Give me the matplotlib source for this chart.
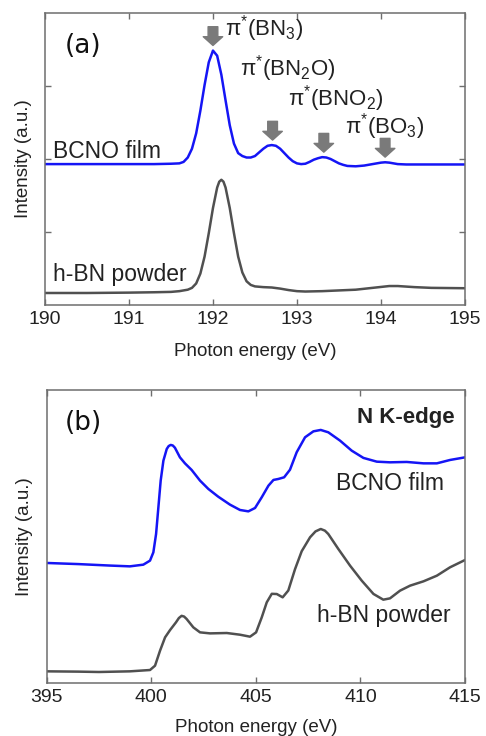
import numpy as np
import matplotlib
matplotlib.use("Agg")
import matplotlib.pyplot as plt

plt.rcParams['font.family'] = ['Liberation Sans', 'DejaVu Sans']
plt.rcParams['mathtext.default'] = 'regular'

# ---- (a) B K-edge, offset spectra ----
b_energy_film = [190.0, 190.5, 191.0, 191.3, 191.5, 191.6, 191.65, 191.7, 191.75, 191.8,
                 191.85, 191.9, 191.95, 192.0, 192.05, 192.1, 192.15, 192.2, 192.25, 192.3,
                 192.35, 192.4, 192.45, 192.5, 192.55, 192.6, 192.65, 192.7, 192.75, 192.8,
                 192.85, 192.9, 192.95, 193.0, 193.05, 193.1, 193.15, 193.2, 193.25, 193.3,
                 193.35, 193.4, 193.45, 193.5, 193.55, 193.6, 193.7, 193.8, 193.9, 194.0,
                 194.05, 194.1, 194.2, 194.3, 194.5, 195.0]
b_bcno = [1.93, 1.93, 1.93, 1.93, 1.935, 1.94, 1.96, 2.02, 2.14, 2.35,
          2.66, 3.01, 3.32, 3.48, 3.41, 3.15, 2.80, 2.46, 2.21, 2.08,
          2.04, 2.02, 2.02, 2.04, 2.09, 2.14, 2.18, 2.19, 2.18, 2.14,
          2.08, 2.02, 1.97, 1.94, 1.93, 1.935, 1.96, 1.99, 2.01, 2.025,
          2.02, 2.00, 1.97, 1.94, 1.92, 1.905, 1.90, 1.91, 1.93, 1.95,
          1.955, 1.95, 1.93, 1.925, 1.925, 1.925]

b_energy_hbn = [190.0, 190.5, 191.0, 191.3, 191.5, 191.6, 191.7, 191.75, 191.8, 191.85,
                191.9, 191.95, 192.0, 192.05, 192.075, 192.1, 192.125, 192.15, 192.2, 192.25,
                192.3, 192.35, 192.4, 192.45, 192.5, 192.6, 192.7, 192.8, 192.9, 193.0,
                193.1, 193.3, 193.5, 193.7, 193.9, 194.1, 194.2, 194.4, 194.6, 195.0]
b_hbn = [0.17, 0.17, 0.175, 0.18, 0.185, 0.195, 0.215, 0.24, 0.30, 0.435,
         0.667, 0.986, 1.33, 1.61, 1.69, 1.716, 1.69, 1.61, 1.33, 0.986,
         0.667, 0.45, 0.33, 0.28, 0.26, 0.25, 0.245, 0.23, 0.21, 0.195,
         0.19, 0.195, 0.205, 0.215, 0.24, 0.265, 0.265, 0.25, 0.24, 0.235]

peak_energies = [192.0, 192.71, 193.32, 194.05]
peak_labels = [r"$π^{*}$(BN$_3$)", r"$π^{*}$(BN$_2$O)", r"$π^{*}$(BNO$_2$)", r"$π^{*}$(BO$_3$)"]

# ---- (b) N K-edge ----
n_energy_film = [395.0, 396.5, 398.0, 398.98, 399.62, 399.94, 400.10, 400.23, 400.34, 400.45,
                 400.58, 400.74, 400.83, 400.93, 401.03, 401.13, 401.37, 401.61, 401.93, 402.33,
                 402.73, 403.20, 403.76, 404.24, 404.64, 404.96, 405.28, 405.60, 405.84, 406.07,
                 406.35, 406.63, 406.95, 407.35, 407.75, 408.10, 408.46, 409.02, 409.58, 410.14,
                 410.78, 411.41, 412.21, 413.01, 413.65, 414.28, 415.0]
n_bcno = [1.640, 1.625, 1.605, 1.594, 1.617, 1.672, 1.785, 2.035, 2.398, 2.762,
          3.034, 3.193, 3.232, 3.248, 3.240, 3.210, 3.079, 2.997, 2.907, 2.762,
          2.648, 2.543, 2.435, 2.362, 2.343, 2.389, 2.535, 2.693, 2.771, 2.784,
          2.807, 2.910, 3.148, 3.352, 3.433, 3.452, 3.420, 3.307, 3.170, 3.071,
          3.020, 3.011, 3.016, 2.997, 2.997, 3.043, 3.079]

n_energy_hbn = [395.0, 396.5, 397.5, 398.98, 399.94, 400.18, 400.42, 400.66, 400.90, 401.18,
                401.32, 401.45, 401.57, 401.69, 402.01, 402.33, 402.81, 403.61, 404.24, 404.72,
                405.01, 405.28, 405.52, 405.76, 406.0, 406.28, 406.55, 406.87, 407.19, 407.59,
                407.85, 408.10, 408.30, 408.46, 408.94, 409.50, 410.06, 410.62, 411.09, 411.41,
                411.89, 412.37, 413.01, 413.65, 414.28, 415.0]
n_hbn = [0.164, 0.160, 0.155, 0.164, 0.182, 0.241, 0.446, 0.627, 0.727, 0.831,
         0.890, 0.920, 0.910, 0.877, 0.763, 0.695, 0.681, 0.686, 0.663, 0.636,
         0.695, 0.899, 1.104, 1.220, 1.217, 1.172, 1.265, 1.555, 1.800, 1.990,
         2.070, 2.103, 2.080, 2.035, 1.831, 1.604, 1.399, 1.218, 1.140, 1.158,
         1.263, 1.331, 1.390, 1.467, 1.581, 1.681]

blue = '#1515f5'
grey = '#505050'
frame = '#6e6e6e'

fig = plt.figure(figsize=(4.86, 7.36), dpi=100)
ax1 = fig.add_axes([0.0926, 0.585, 0.864, 0.398])
ax2 = fig.add_axes([0.096, 0.0715, 0.861, 0.399])


def style_axes(ax):
    for sp in ax.spines.values():
        sp.set_color(frame)
        sp.set_linewidth(1.1)
    ax.tick_params(axis='both', direction='in', length=4.5, width=1, color=frame,
                   top=True, right=True, labelsize=14, pad=4, labelcolor='#222222')
    ax.set_xlabel('Photon energy (eV)', fontsize=13.5, color='#222222')
    ax.set_ylabel('Intensity (a.u.)', fontsize=13.5, color='#222222')


# panel (a)
ax1.plot(b_energy_film, b_bcno, color=blue, lw=1.8)
ax1.plot(b_energy_hbn, b_hbn, color=grey, lw=1.8)
ax1.set_xlim(190, 195)
ax1.set_ylim(0, 4)
ax1.set_xticks(np.arange(190, 196, 1))
ax1.set_yticks([1, 2, 3])
ax1.set_yticklabels([])
style_axes(ax1)
ax1.xaxis.set_label_coords(0.5, -0.128)
ax1.yaxis.set_label_coords(-0.032, 0.5)

ax1.text(0.048, 0.887, '(a)', transform=ax1.transAxes, family='DejaVu Sans',
         fontsize=19, va='center', ha='left', color='#111111')
ax1.text(190.1, 2.02, 'BCNO film', fontsize=16.5, color='#222222')
ax1.text(190.1, 0.33, 'h-BN powder', fontsize=16.5, color='#222222')

label_pos = [(192.14, 3.69), (192.32, 3.14), (192.89, 2.73), (193.57, 2.35)]
for e, lab, (lx, ly) in zip(peak_energies, peak_labels, label_pos):
    tip = np.interp(e, b_energy_film, b_bcno) + 0.07
    ax1.annotate('', xy=(e, tip), xytext=(0, 13.5), textcoords='offset points',
                 arrowprops=dict(arrowstyle='simple,head_length=0.45,head_width=1.0,tail_width=0.5',
                                 color='#7a7a7a', shrinkA=0, shrinkB=0, mutation_scale=14))
    ax1.text(lx, ly, lab, fontsize=16, color='#222222', va='baseline')

# panel (b)
ax2.plot(n_energy_film, n_bcno, color=blue, lw=1.8)
ax2.plot(n_energy_hbn, n_hbn, color=grey, lw=1.8)
ax2.set_xlim(395, 415)
ax2.set_ylim(0, 4)
ax2.set_xticks(np.arange(395, 416, 5))
ax2.set_yticks([])
style_axes(ax2)
ax2.xaxis.set_label_coords(0.5, -0.12)
ax2.yaxis.set_label_coords(-0.033, 0.5)

ax2.text(0.044, 0.888, '(b)', transform=ax2.transAxes, family='DejaVu Sans',
         fontsize=19, va='center', ha='left', color='#111111')
ax2.text(0.976, 0.888, 'N K-edge', transform=ax2.transAxes, fontsize=16,
         fontweight='bold', ha='right', va='baseline', color='#222222')
ax2.text(408.84, 2.64, 'BCNO film', fontsize=16.5, color='#222222')
ax2.text(407.93, 0.83, 'h-BN powder', fontsize=16.5, color='#222222')

fig.savefig('out.png', dpi=100)
